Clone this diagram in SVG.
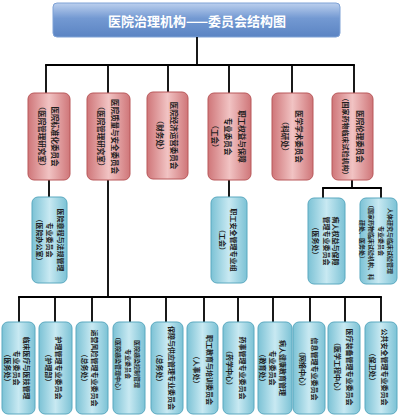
<svg xmlns="http://www.w3.org/2000/svg" width="400" height="419" viewBox="0 0 400 419">
<defs>
<linearGradient id="gTitle" x1="0" y1="0" x2="0" y2="1">
<stop offset="0" stop-color="#bcd0ee"/><stop offset="0.45" stop-color="#7399d2"/><stop offset="1" stop-color="#5b84c3"/>
</linearGradient>
<linearGradient id="gRed" x1="0" y1="0" x2="1" y2="0">
<stop offset="0" stop-color="#cf7679"/><stop offset="0.5" stop-color="#f1c3c3"/><stop offset="1" stop-color="#cf7679"/>
</linearGradient>
<linearGradient id="gBlue" x1="0" y1="0" x2="1" y2="0">
<stop offset="0" stop-color="#7cc2d5"/><stop offset="0.5" stop-color="#c8e9f2"/><stop offset="1" stop-color="#7cc2d5"/>
</linearGradient>
</defs>
<style>
.red{fill:url(#gRed);stroke:#b9585a;stroke-width:1}
.blue{fill:url(#gBlue);stroke:#5aa9c0;stroke-width:1}
text{font-family:"Noto Sans CJK SC","Noto Sans",sans-serif;font-weight:bold;fill:#1e1e1e;text-anchor:middle;dominant-baseline:central}
.t8{font-size:7.5px}
.t7{font-size:7px}
.t6{font-size:6px}
.conn line{stroke:#000;stroke-width:1.8;fill:none}
</style>

<g id="title">
<rect x="53" y="3" width="287" height="34" rx="4" fill="url(#gTitle)" stroke="#7fa2d6"/>
<text x="197" y="20" style="font-size:13px;fill:#ffffff">医院治理机构——委员会结构图</text>
</g>

<g class="conn" id="connectors">
<line x1="197" y1="37" x2="197" y2="65"/>
<line x1="45.1" y1="65" x2="354.9" y2="65"/>
<line x1="46" y1="65" x2="46" y2="93"/>
<line x1="108" y1="65" x2="108" y2="93"/>
<line x1="168" y1="65" x2="168" y2="93"/>
<line x1="229" y1="65" x2="229" y2="93"/>
<line x1="292" y1="65" x2="292" y2="93"/>
<line x1="354" y1="65" x2="354" y2="93"/>
<line x1="49" y1="180" x2="49" y2="197"/>
<line x1="229" y1="180" x2="229" y2="197"/>
<line x1="352" y1="180" x2="352" y2="188"/>
<line x1="322.1" y1="188" x2="381.9" y2="188"/>
<line x1="323" y1="188" x2="323" y2="198"/>
<line x1="381" y1="188" x2="381" y2="198"/>
<line x1="108" y1="180" x2="108" y2="297"/>
<line x1="18.1" y1="297" x2="381.9" y2="297"/>
<line x1="19" y1="297" x2="19" y2="322"/>
<line x1="55" y1="297" x2="55" y2="322"/>
<line x1="92" y1="297" x2="92" y2="322"/>
<line x1="130" y1="297" x2="130" y2="322"/>
<line x1="166" y1="297" x2="166" y2="322"/>
<line x1="204" y1="297" x2="204" y2="322"/>
<line x1="238" y1="297" x2="238" y2="322"/>
<line x1="273" y1="297" x2="273" y2="322"/>
<line x1="310" y1="297" x2="310" y2="322"/>
<line x1="345" y1="297" x2="345" y2="322"/>
<line x1="381" y1="297" x2="381" y2="322"/>
</g>

<g id="r1"><rect class="red" x="28" y="93" width="42" height="87" rx="6"/>
<g transform="translate(49,136.5) rotate(90)"><text class="t8" y="-6.5">医院标准化委员会</text><text class="t8" y="6.5">（医院管理研究室）</text></g></g>
<g id="r2"><rect class="red" x="87" y="93" width="43" height="87" rx="6"/>
<g transform="translate(108.5,136.5) rotate(90)"><text class="t8" y="-7">医院质量与安全委员会</text><text class="t8" y="7">（医院管理研究室）</text></g></g>
<g id="r3"><rect class="red" x="147" y="92" width="41" height="87" rx="6"/>
<g transform="translate(167.5,135.5) rotate(90)"><text class="t8" y="-7">医院经济运营委员会</text><text class="t8" y="7">（财务处）</text></g></g>
<g id="r4"><rect class="red" x="208" y="93" width="43" height="87" rx="6"/>
<g transform="translate(229.5,136.5) rotate(90)"><text class="t8" y="-12.5">职工权益与保障</text><text class="t8" y="1">专业委员会</text><text class="t8" y="14">（工会）</text></g></g>
<g id="r5"><rect class="red" x="272" y="93" width="41" height="87" rx="6"/>
<g transform="translate(292.5,136.5) rotate(90)"><text class="t8" y="-6.5">医学学术委员会</text><text class="t8" y="7">（科研处）</text></g></g>
<g id="r6"><rect class="red" x="332" y="93" width="41" height="87" rx="6"/>
<g transform="translate(352.5,136.5) rotate(90)"><text class="t8" y="-7.5">医院伦理委员会</text><text class="t7" y="7">（国家药物临床试验机构）</text></g></g>

<g id="b1"><rect class="blue" x="32" y="197" width="35" height="86" rx="6"/>
<g transform="translate(49.5,240) rotate(90)"><text class="t7" y="-11">医院章程与法规管理</text><text class="t7" y="-0.5">专业委员会</text><text class="t7" y="10">（医院办公室）</text></g></g>
<g id="b2"><rect class="blue" x="211" y="197" width="36" height="86" rx="6"/>
<g transform="translate(229,240) rotate(90)"><text class="t7" y="-5">职工安全管理专业组</text><text class="t7" y="6">（工会）</text></g></g>
<g id="b3"><rect class="blue" x="308" y="198" width="37" height="86" rx="6"/>
<g transform="translate(326.5,241) rotate(90)"><text class="t7" y="-9.5">病人权益与保障</text><text class="t7" y="0">管理专业委员会</text><text class="t7" y="10.5">（医务处）</text></g></g>
<g id="b4"><rect class="blue" x="360" y="198" width="37" height="86" rx="6"/>
<g transform="translate(378.5,241) rotate(90)"><text class="t6" y="-11.5">人体研究与临床试验管理</text><text class="t6" y="-2.5">专业委员会</text><text class="t6" y="7">（国家药物临床试验机构、科</text><text class="t6" y="16">研处、医务处）</text></g></g>

<g id="c1"><rect class="blue" x="2" y="322" width="33" height="92" rx="6"/>
<g transform="translate(18.5,368) rotate(90)"><text class="t7" y="-8.5">临床医疗与医技管理</text><text class="t7" y="1.5">专业委员会</text><text class="t7" y="10.5">（医务处）</text></g></g>
<g id="c2"><rect class="blue" x="39" y="322" width="33" height="92" rx="6"/>
<g transform="translate(55.5,368) rotate(90)"><text class="t7" y="-3">护理管理专业委员会</text><text class="t7" y="6.5">（护理部）</text></g></g>
<g id="c3"><rect class="blue" x="76" y="322" width="32" height="92" rx="6"/>
<g transform="translate(92,368) rotate(90)"><text class="t7" y="-3">运营风险管理专业委员会</text><text class="t7" y="7">（总务处）</text></g></g>
<g id="c4"><rect class="blue" x="113" y="322" width="32" height="92" rx="6"/>
<g transform="translate(129,364) rotate(90)"><text class="t6" y="-8">医院感染控制管理</text><text class="t6" y="1">专业委员会</text><text class="t6" y="11">（医院感染管理中心）</text></g></g>
<g id="c5"><rect class="blue" x="151" y="322" width="32" height="92" rx="6"/>
<g transform="translate(167,368) rotate(90)"><text class="t7" y="-5">保障与供应管理专业委员会</text><text class="t7" y="7">（总务处）</text></g></g>
<g id="c6"><rect class="blue" x="187" y="322" width="31" height="92" rx="6"/>
<g transform="translate(202.5,370) rotate(90)"><text class="t7" y="-7.5">职工教育与培训委员会</text><text class="t7" y="5.5">（人事处）</text></g></g>
<g id="c7"><rect class="blue" x="223" y="322" width="31" height="92" rx="6"/>
<g transform="translate(238.5,368) rotate(90)"><text class="t7" y="-4.5">药事管理专业委员会</text><text class="t7" y="8.5">（药学中心）</text></g></g>
<g id="c8"><rect class="blue" x="258" y="322" width="34" height="92" rx="6"/>
<g transform="translate(275,368) rotate(90)"><text class="t7" y="-8">病人健康教育管理</text><text class="t7" y="2">专业委员会</text><text class="t7" y="12">（教育处）</text></g></g>
<g id="c9"><rect class="blue" x="293" y="322" width="32" height="92" rx="6"/>
<g transform="translate(309,369) rotate(90)"><text class="t7" y="-6">信息管理专业委员会</text><text class="t7" y="6">（网络中心）</text></g></g>
<g id="c10"><rect class="blue" x="328" y="322" width="32" height="92" rx="6"/>
<g transform="translate(344,367) rotate(90)"><text class="t7" y="-6">医疗装备管理专业委员会</text><text class="t7" y="6">（医学工程中心）</text></g></g>
<g id="c11"><rect class="blue" x="365" y="322" width="32" height="92" rx="6"/>
<g transform="translate(381,367) rotate(90)"><text class="t7" y="-4">公共安全管理专业委员会</text><text class="t7" y="8">（保卫处）</text></g></g>
</svg>
